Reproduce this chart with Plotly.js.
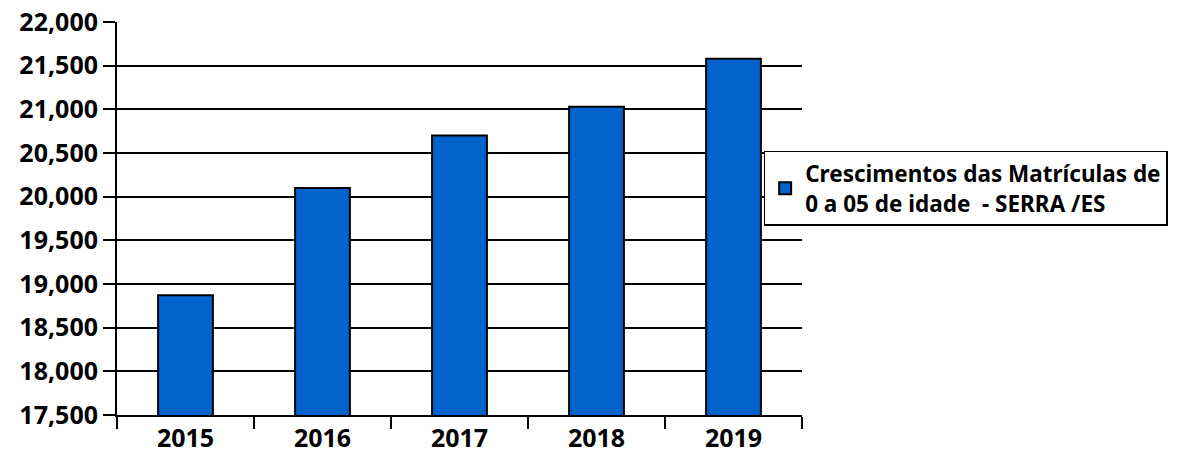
<!DOCTYPE html>
<html>
<head>
<meta charset="utf-8">
<script src="https://cdn.plot.ly/plotly-3.0.1.min.js"></script>
<style>html,body{margin:0;padding:0;background:#fff;}#chart{width:1178px;height:468px;}</style>
</head>
<body>
<div id="chart"></div>
<script>
const years = ['2015', '2016', '2017', '2018', '2019'];
const matriculas = [18870, 20100, 20700, 21030, 21580];
const seriesName = 'Crescimentos das Matrículas de<br>0 a 05 de idade  - SERRA /ES';
const yTicks = [17500, 18000, 18500, 19000, 19500, 20000, 20500, 21000, 21500, 22000];

const fontFam = '"Noto Sans", "Open Sans", sans-serif';

const trace = {
  type: 'bar',
  x: years,
  y: matriculas,
  name: seriesName,
  showlegend: true,
  marker: {color: '#0163CB', line: {color: '#000', width: 2}},
  hoverinfo: 'x+y'
};

const layout = {
  width: 1178, height: 468,
  margin: {l: 117, r: 376, t: 22, b: 53, autoexpand: false},
  paper_bgcolor: '#fff', plot_bgcolor: '#fff',
  bargap: 0.6,
  font: {family: fontFam, size: 24, color: '#000'},
  showlegend: true,
  legend: {
    x: 0.944, xanchor: 'left', y: 0.672, yanchor: 'top',
    bgcolor: '#fff', bordercolor: '#000', borderwidth: 1.5,
    font: {family: fontFam, size: 22.5, color: '#000', weight: 'bold'},
    itemwidth: 30, tracegroupgap: 0
  },
  xaxis: {
    type: 'category',
    showline: true, linecolor: '#000', linewidth: 2,
    ticks: 'outside', tickson: 'boundaries', ticklen: 12, tickwidth: 2, tickcolor: '#000',
    tickfont: {family: fontFam, size: 25, color: '#000', weight: 'bold'},
    showgrid: false, zeroline: false
  },
  yaxis: {
    range: [17500, 22000],
    tickvals: yTicks, tickformat: ',',
    showline: true, linecolor: '#000', linewidth: 2,
    ticks: 'outside', ticklen: 12, tickwidth: 2, tickcolor: '#000',
    showgrid: true, gridcolor: '#000', gridwidth: 2,
    tickfont: {family: fontFam, size: 25, color: '#000', weight: 'bold'},
    zeroline: false
  }
};

Plotly.newPlot('chart', [trace], layout, {displayModeBar: false, staticPlot: true});
</script>
</body>
</html>
